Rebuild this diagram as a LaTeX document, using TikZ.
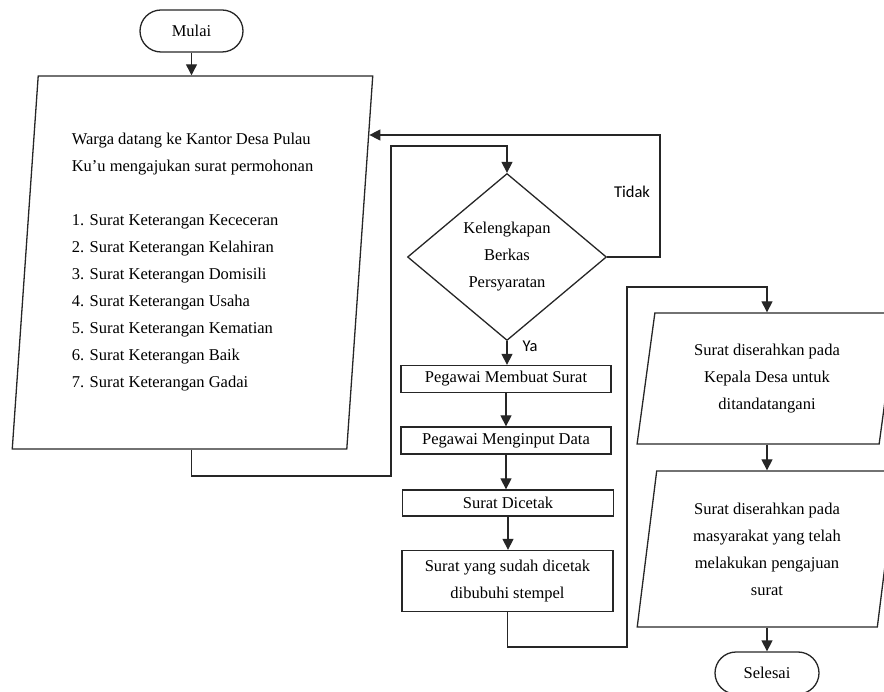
\documentclass[tikz,border=0pt]{standalone}
\usepackage{fontspec}
\setmainfont{Liberation Serif}
\newfontfamily\labelfont{Carlito}
\usepackage{tikz}
\usetikzlibrary{arrows.meta}
\usetikzlibrary{shapes.geometric}
\usetikzlibrary{shapes.misc}

\tikzset{
  garis/.style={draw=black!85, line width=1.3pt},
  panah/.style={garis, -{Triangle[length=11pt,width=11pt]}},
  teks/.style={font=\fontsize{16.5}{27}\selectfont, align=center},
  ket/.style={font=\labelfont\fontsize{16.5}{20}\selectfont},
  terminal/.style={garis, rounded rectangle, minimum width=103pt, minimum height=42pt, inner sep=0pt, teks},
  proses/.style={garis, rectangle, minimum width=210pt, minimum height=27pt, inner sep=0pt, teks},
  keputusan/.style={garis, diamond, aspect=1.19, minimum width=199pt, minimum height=167pt, inner sep=0pt, teks},
  masukan/.style={garis, trapezium, trapezium stretches=true, inner sep=0pt, teks}
}

\begin{document}
\begin{tikzpicture}[x=1pt,y=-1pt]

\useasboundingbox (0,0) rectangle (884,692);
\clip (0,0) rectangle (884,692);

\node[terminal] (mulai) at (191.5,31) {Mulai};

\node[masukan, trapezium left angle=85.5, trapezium right angle=94.5,
      minimum width=361pt, minimum height=373pt, align=left] (warga) at (192.5,262.5)
  {Warga datang ke Kantor Desa Pulau\\
   Ku’u mengajukan surat permohonan\\[27pt]
   1. Surat Keterangan Kececeran\\
   2. Surat Keterangan Kelahiran\\
   3. Surat Keterangan Domisili\\
   4. Surat Keterangan Usaha\\
   5. Surat Keterangan Kematian\\
   6. Surat Keterangan Baik\\
   7. Surat Keterangan Gadai};

\node[keputusan] (cek) at (507,257) {Kelengkapan\\ Berkas\\ Persyaratan};

\node[proses] (buat) at (506,379) {Pegawai Membuat Surat};
\node[proses] (input) at (506,440.5) {Pegawai Menginput Data};
\node[proses, minimum width=211pt, minimum height=26pt] (cetak) at (508,503) {Surat Dicetak};
\node[proses, minimum width=211pt, minimum height=61pt] (stempel) at (507.5,581)
  {Surat yang sudah dicetak\\ dibubuhi stempel};

\node[masukan, trapezium left angle=80.5, trapezium right angle=99.5,
      minimum width=260pt, minimum height=131pt] (ttd) at (767,378.5)
  {Surat diserahkan pada\\ Kepala Desa untuk\\ ditandatangani};
\node[masukan, trapezium left angle=82, trapezium right angle=98,
      minimum width=260pt, minimum height=156pt] (serah) at (767,549)
  {Surat diserahkan pada\\ masyarakat yang telah\\ melakukan pengajuan\\ surat};

\node[terminal, minimum width=104pt] (selesai) at (767,673) {Selesai};

\node[ket] (tidak) at (632,192) {Tidak};
\node[ket] (ya) at (530,346) {Ya};

% jalur
\coordinate (belok1) at (391,476);
\coordinate (belok2) at (391,146);
\coordinate (belok3) at (660,135);
\coordinate (belok4) at (627,647);
\coordinate (belok5) at (627,287);

\draw[panah] (mulai.south) -- (mulai.south |- warga.north);
\draw[panah] (mulai.south |- warga.south) |- (belok1) -- (belok2) -| (cek.north);
\draw[panah] (cek.east) -| (belok3) -- (belok3 -| warga.36);
\draw[panah] (cek.south) -- (cek.south |- buat.north);
\draw[panah] (buat.south) -- (buat.south |- input.north);
\draw[panah] (input.south) -- (input.south |- cetak.north);
\draw[panah] (cetak.south) -- (cetak.south |- stempel.north);
\draw[panah] (stempel.south) |- (belok4) -- (belok5) -| (ttd.center |- ttd.north);
\draw[panah] (ttd.center |- ttd.south) -- (serah.center |- serah.north);
\draw[panah] (serah.center |- serah.south) -- (selesai.north);

\end{tikzpicture}
\end{document}
